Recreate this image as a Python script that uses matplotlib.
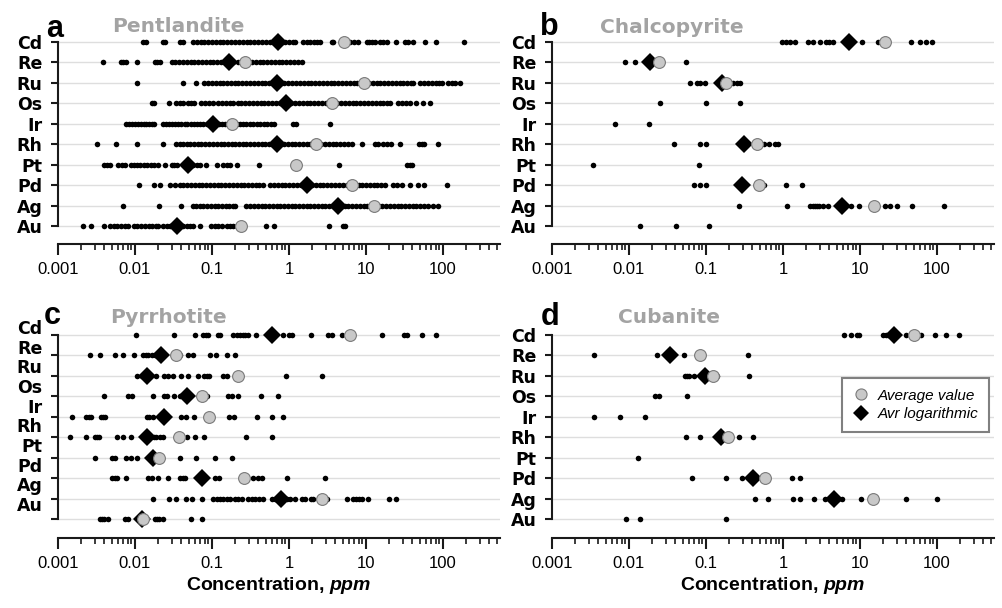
import numpy as np
import matplotlib
matplotlib.use("Agg")
import matplotlib.pyplot as plt
from matplotlib.lines import Line2D
from matplotlib.ticker import FixedLocator, LogLocator, NullFormatter, FuncFormatter

# element order (top to bottom)
elements = ["Cd", "Re", "Ru", "Os", "Ir", "Rh", "Pt", "Pd", "Ag", "Au"]

# ---- a: Pentlandite (ppm), one list per element ----
pentlandite_dots = [
    [0.0126, 0.0138, 0.0233, 0.0245, 0.0384, 0.0416, 0.057, 0.063, 0.071, 0.079, 0.089, 0.10, 0.112,
     0.126, 0.141, 0.158, 0.178, 0.20, 0.224, 0.251, 0.282, 0.316, 0.355, 0.398, 0.447, 0.51, 0.56,
     0.62, 0.69, 0.80, 0.89, 1.0, 1.12, 1.2, 1.53, 1.7, 1.9, 2.1, 2.3, 2.53, 3.58, 3.77, 5.6, 6.2,
     6.9, 7.95, 10.2, 11.0, 11.9, 13.1, 15.2, 16.5, 18.6, 24.6, 32, 35, 41, 59, 81, 187],
    [0.0038, 0.0065, 0.0070, 0.0076, 0.0107, 0.018, 0.0195, 0.021, 0.030, 0.0335, 0.0376, 0.042,
     0.047, 0.053, 0.059, 0.066, 0.074, 0.083, 0.093, 0.104, 0.117, 0.131, 0.147, 0.155, 0.19, 0.215,
     0.24, 0.296, 0.33, 0.37, 0.415, 0.465, 0.52, 0.585, 0.655, 0.735, 0.82, 0.92, 1.03, 1.16, 1.3,
     1.46],
    [0.0105, 0.0416, 0.062, 0.079, 0.088, 0.10, 0.113, 0.127, 0.14, 0.157, 0.176, 0.197, 0.22,
     0.247, 0.277, 0.31, 0.35, 0.39, 0.44, 0.49, 0.55, 0.62, 0.69, 0.78, 0.87, 0.98, 1.1, 1.23, 1.38,
     1.55, 1.74, 1.95, 2.19, 2.45, 2.75, 3.09, 3.46, 3.88, 4.35, 4.88, 5.5, 6.15, 6.9, 7.7, 8.7, 9.7,
     10.9, 12.2, 13.7, 15.4, 17.3, 19.4, 21.7, 24.4, 27.3, 30.6, 34.4, 38.5, 41, 51, 57, 64, 72, 80,
     88, 96, 117, 130, 145, 166],
    [0.0165, 0.0178, 0.028, 0.034, 0.038, 0.042, 0.049, 0.054, 0.058, 0.073, 0.082, 0.092, 0.104,
     0.121, 0.136, 0.152, 0.171, 0.19, 0.215, 0.24, 0.27, 0.30, 0.34, 0.38, 0.43, 0.48, 0.54, 0.60,
     0.67, 0.76, 0.85, 0.95, 1.07, 1.2, 1.34, 1.5, 1.69, 1.9, 2.12, 2.38, 2.67, 3.0, 3.36, 3.77, 4.2,
     4.7, 5.3, 5.95, 6.7, 7.5, 8.4, 9.4, 10.6, 11.9, 13.3, 15, 16.8, 18.5, 20.4, 26, 29, 33, 37, 45,
     55, 68],
    [0.0076, 0.0083, 0.0091, 0.0099, 0.0108, 0.0118, 0.0129, 0.0141, 0.0154, 0.0168, 0.0177, 0.023,
     0.025, 0.0275, 0.030, 0.033, 0.036, 0.040, 0.044, 0.048, 0.053, 0.058, 0.064, 0.070, 0.077,
     0.085, 0.093, 0.112, 0.123, 0.135, 0.148, 0.163, 0.19, 0.21, 0.23, 0.255, 0.28, 0.31, 0.345,
     0.38, 0.42, 0.47, 0.52, 0.58, 0.64, 1.12, 1.23, 3.4],
    [0.0032, 0.0056, 0.0105, 0.0233, 0.034, 0.038, 0.042, 0.047, 0.052, 0.058, 0.065, 0.072, 0.081,
     0.092, 0.103, 0.115, 0.129, 0.144, 0.161, 0.18, 0.2, 0.225, 0.25, 0.28, 0.315, 0.35, 0.39, 0.44,
     0.49, 0.55, 0.61, 0.69, 0.77, 0.86, 0.96, 1.08, 1.2, 1.35, 1.51, 1.69, 1.88, 2.1, 2.35, 2.63,
     2.95, 3.3, 3.7, 4.1, 4.6, 5.2, 5.8, 6.5, 8.8, 13, 14.5, 16.5, 18.6, 21, 27.6, 49, 53, 56, 85],
    [0.0039, 0.0043, 0.0047, 0.0061, 0.0067, 0.0074, 0.009, 0.0097, 0.0105, 0.0116, 0.0129, 0.0142,
     0.016, 0.0178, 0.020, 0.0245, 0.030, 0.0325, 0.035, 0.057, 0.063, 0.070, 0.0836, 0.115, 0.14,
     0.155, 0.171, 0.209, 0.41, 4.5, 34, 37, 40],
    [0.0112, 0.0177, 0.021, 0.0285, 0.033, 0.038, 0.042, 0.047, 0.054, 0.06, 0.067, 0.075, 0.084,
     0.094, 0.105, 0.118, 0.132, 0.148, 0.166, 0.186, 0.21, 0.235, 0.26, 0.29, 0.33, 0.37, 0.41,
     0.46, 0.57, 0.64, 0.72, 0.8, 0.9, 1.0, 1.13, 1.27, 1.42, 1.6, 1.8, 2.0, 2.25, 2.5, 2.8, 3.15,
     3.55, 4.0, 4.5, 5.0, 5.6, 6.3, 7.1, 8.0, 8.9, 10, 11.2, 12.6, 14.1, 15.8, 17.7, 22.6, 25, 29, 37,
     48, 56, 114],
    [0.0070, 0.0207, 0.040, 0.056, 0.062, 0.070, 0.077, 0.086, 0.096, 0.108, 0.12, 0.135, 0.15,
     0.168, 0.185, 0.20, 0.28, 0.315, 0.35, 0.39, 0.44, 0.49, 0.55, 0.62, 0.69, 0.77, 0.86, 0.97,
     1.08, 1.21, 1.35, 1.51, 1.69, 1.89, 2.12, 2.37, 2.65, 2.97, 3.32, 3.77, 4.2, 4.7, 5.3, 5.9, 6.6,
     7.4, 8.3, 9.3, 10.4, 11.6, 13, 14.6, 16.3, 18.3, 20.5, 23, 25.7, 28.8, 32, 36, 40.5, 45, 51, 57,
     64, 74, 85],
    [0.0021, 0.0027, 0.0039, 0.0047, 0.0053, 0.0059, 0.0066, 0.0074, 0.0082, 0.0096, 0.0107, 0.012,
     0.0134, 0.015, 0.0168, 0.0188, 0.020, 0.023, 0.0257, 0.0288, 0.033, 0.038, 0.042, 0.047, 0.052,
     0.057, 0.070, 0.096, 0.108, 0.121, 0.136, 0.155, 0.171, 0.19, 0.209, 0.51, 0.64, 3.34, 4.98,
     5.33],
]
pentlandite_mean = [5.18, 0.268, 9.4, 3.66, 0.18, 2.22, 1.22, 6.5, 12.7, 0.235]
pentlandite_logmean = [0.73, 0.164, 0.69, 0.91, 0.102, 0.69, 0.049, 1.7, 4.37, 0.0355]

# ---- b: Chalcopyrite ----
chalcopyrite_dots = [
    [0.98, 1.1, 1.22, 1.42, 2.11, 2.45, 3.05, 3.66, 4.0, 4.47, 10.6, 17.1, 45.5, 61, 73, 86],
    [0.0088, 0.012, 0.0545],
    [0.0614, 0.0764, 0.083, 0.098, 0.203, 0.225, 0.25, 0.279],
    [0.025, 0.101, 0.279],
    [0.0065, 0.018],
    [0.038, 0.0844, 0.099, 0.56, 0.66, 0.78, 0.86],
    [0.0034, 0.081],
    [0.069, 0.083, 0.101, 0.57, 1.08, 1.78],
    [0.265, 1.13, 2.26, 2.45, 2.6, 2.75, 2.9, 3.3, 3.84, 7.7, 9.6, 21.3, 24.3, 30.5, 47, 123],
    [0.0138, 0.041, 0.109],
]
chalcopyrite_mean = [20.9, 0.0243, 0.184, None, None, 0.455, None, 0.49, 15, None]
chalcopyrite_logmean = [7.1, 0.0185, 0.161, None, None, 0.308, None, 0.294, 5.83, None]

# ---- c: Pyrrhotite ----
pyrrhotite_dots = [
    [0.0103, 0.032, 0.060, 0.077, 0.083, 0.0895, 0.121, 0.127, 0.189, 0.21, 0.23, 0.25, 0.27, 0.296,
     0.372, 0.84, 1.0, 1.08, 1.91, 3.18, 3.66, 4.83, 16, 31.5, 34.4, 53, 81],
    [0.0026, 0.0035, 0.0055, 0.0070, 0.0097, 0.0126, 0.0138, 0.0149, 0.0164, 0.018, 0.0384, 0.049,
     0.057, 0.094, 0.113, 0.155, 0.199],
    [0.0105, 0.0122, 0.0131, 0.0188, 0.024, 0.027, 0.031, 0.040, 0.049, 0.065, 0.079, 0.085, 0.092,
     0.138, 0.155, 0.905, 2.65],
    [0.0039, 0.0080, 0.0091, 0.0169, 0.0238, 0.026, 0.0324, 0.038, 0.085, 0.16, 0.18, 0.215, 0.432,
     0.71],
    [0.0015, 0.0023, 0.0025, 0.00265, 0.0036, 0.0038, 0.0041, 0.0142, 0.0153, 0.017, 0.039, 0.046,
     0.058, 0.168, 0.193, 0.388, 0.596, 0.83],
    [0.00143, 0.0023, 0.003, 0.0032, 0.0034, 0.0059, 0.0070, 0.0088, 0.0177, 0.019, 0.021, 0.0233,
     0.048, 0.060, 0.0787, 0.277, 0.596],
    [0.003, 0.0051, 0.0055, 0.0076, 0.0089, 0.0105, 0.038, 0.062, 0.109, 0.184],
    [0.0051, 0.0055, 0.0059, 0.0076, 0.0149, 0.0164, 0.020, 0.027, 0.038, 0.0416, 0.0445, 0.109,
     0.124, 0.344, 0.39, 0.44, 0.93, 2.94],
    [0.0173, 0.028, 0.034, 0.046, 0.0545, 0.0735, 0.104, 0.115, 0.127, 0.14, 0.155, 0.171, 0.2, 0.22,
     0.243, 0.296, 0.33, 0.36, 0.41, 0.465, 0.596, 0.66, 0.727, 0.84, 0.93, 1.03, 1.2, 1.46, 1.6,
     1.91, 2.07, 3.08, 5.6, 6.7, 7.4, 8.2, 8.8, 10.7, 20, 24.5],
    [0.0035, 0.0037, 0.0040, 0.0044, 0.0074, 0.0082, 0.018, 0.0195, 0.0207, 0.0233, 0.053, 0.075],
]
pyrrhotite_mean = [6.2, 0.034, 0.22, 0.0735, 0.091, 0.0377, 0.0205, 0.26, 2.65, 0.0128]
pyrrhotite_logmean = [0.596, 0.0218, 0.0142, 0.048, 0.024, 0.0142, 0.0173, 0.0735, 0.78, 0.0122]

# ---- d: Cubanite ----
cubanite_dots = [
    [6.2, 7.6, 9.05, 9.8, 20, 21.5, 22.8, 40, 62.7, 95, 132, 192],
    [0.00346, 0.0228, 0.052, 0.349],
    [0.0535, 0.057, 0.061, 0.070, 0.139, 0.36],
    [0.0217, 0.0247, 0.057],
    [0.00346, 0.0077, 0.0161],
    [0.0546, 0.0836, 0.267, 0.405],
    [0.0131],
    [0.0666, 0.183, 0.295, 0.36, 1.31, 1.67],
    [0.43, 0.634, 1.35, 1.67, 2.54, 3.46, 5.2, 5.9, 10.2, 40, 101],
    [0.0091, 0.0139, 0.183],
]
cubanite_mean = [50.4, 0.0836, 0.124, None, None, 0.195, None, 0.59, 14.9, None]
cubanite_logmean = [27.8, 0.0342, 0.096, None, None, 0.155, None, 0.41, 4.66, None]

W, H = 1002, 608
SPINE = "#1a1a1a"
CIRCLE_FC = "#c8c8c8"
CIRCLE_EC = "#7a7a7a"
TITLE_GREY = "#a3a3a3"

plt.rcParams["font.family"] = ["Liberation Sans", "DejaVu Sans"]
plt.rcParams["mathtext.fontset"] = "custom"
plt.rcParams["mathtext.it"] = "Liberation Sans:italic:bold"
plt.rcParams["mathtext.rm"] = "Liberation Sans:bold"


def rect(left, top, right, bottom):
    return [left / W, 1 - bottom / H, (right - left) / W, (bottom - top) / H]


def draw(ax, dots, mean, logmean, ylim, xlabel=False, label_pos=None):
    rows = np.arange(len(elements))
    for i, vals in enumerate(dots):
        ax.plot(vals, [i] * len(vals), "o", ms=4.0, mew=0, color="black", zorder=3)
    for i in rows:
        if logmean[i] is not None:
            ax.plot(logmean[i], i, "D", ms=8.8, color="black", mew=0, zorder=4)
        if mean[i] is not None:
            ax.plot(mean[i], i, "o", ms=8.5, mfc=CIRCLE_FC, mec=CIRCLE_EC, mew=0.8, zorder=5)

    ax.set_xscale("log")
    ax.set_xlim(1e-3, 550)
    ax.set_ylim(*ylim)
    ax.xaxis.set_major_locator(FixedLocator([1e-3, 1e-2, 1e-1, 1, 10, 100]))
    ax.xaxis.set_major_formatter(FuncFormatter(lambda v, p: "{:g}".format(v)))
    ax.xaxis.set_minor_locator(LogLocator(base=10, subs=np.arange(2, 10), numticks=20))
    ax.xaxis.set_minor_formatter(NullFormatter())

    if label_pos is None:
        ax.set_yticks(rows, elements)
    else:
        ax.set_yticks(rows, [""] * len(rows))
        ax.set_yticks(label_pos, elements, minor=True)
        ax.tick_params(axis="y", which="minor", length=0, pad=11)
    for t in ax.get_yticklabels(which="both"):
        t.set_fontfamily("DejaVu Sans")
        t.set_fontweight("bold")
        t.set_fontsize(12.5)

    ax.grid(axis="y", which="major", color="#dedede", lw=1)
    ax.set_axisbelow(True)
    for s in ["top", "right"]:
        ax.spines[s].set_visible(False)
    for s in ["left", "bottom"]:
        ax.spines[s].set_linewidth(1.5)
        ax.spines[s].set_color(SPINE)
    ax.spines["left"].set_bounds(0, 9)

    ax.tick_params(axis="x", which="major", length=8, width=1.5, pad=5,
                   labelsize=12, color=SPINE)
    ax.tick_params(axis="x", which="minor", length=4.5, width=1.2, color=SPINE)
    ax.tick_params(axis="y", which="major", length=5, width=1.5, pad=6, color=SPINE)

    if xlabel:
        ax.set_xlabel(r"Concentration, $\mathit{ppm}$", fontsize=14, fontweight="bold", labelpad=3)


fig = plt.figure(figsize=(W / 100, H / 100), dpi=100)

ax_a = fig.add_axes(rect(58, 32, 500, 244))
ax_b = fig.add_axes(rect(552, 32, 994, 244))
ax_c = fig.add_axes(rect(58, 325, 500, 538))
ax_d = fig.add_axes(rect(552, 325, 994, 538))

top_lim = (9.88, -0.49)
bot_lim = (9.93, -0.49)
draw(ax_a, pentlandite_dots, pentlandite_mean, pentlandite_logmean, top_lim)
draw(ax_b, chalcopyrite_dots, chalcopyrite_mean, chalcopyrite_logmean, top_lim)
# pyrrhotite labels sit between the data rows in the original
c_labels = [-0.39 + 0.962 * i for i in range(len(elements))]
draw(ax_c, pyrrhotite_dots, pyrrhotite_mean, pyrrhotite_logmean, bot_lim, xlabel=True,
     label_pos=c_labels)
draw(ax_d, cubanite_dots, cubanite_mean, cubanite_logmean, bot_lim, xlabel=True)

# panel letters and mineral names
panels = [("a", "Pentlandite", 63, 37, 112, 32),
          ("b", "Chalcopyrite", 559, 35, 600, 33),
          ("c", "Pyrrhotite", 61, 324, 110, 323),
          ("d", "Cubanite", 559, 325, 618, 323)]
for letter, name, lx, ly, nx, ny in panels:
    fig.text(lx / W, 1 - ly / H, letter, ha="right", va="baseline",
             fontsize=22, fontweight="bold", color="black")
    fig.text(nx / W, 1 - ny / H, name, ha="left", va="baseline", family="DejaVu Sans",
             fontsize=14.5, fontweight="bold", color=TITLE_GREY)

handles = [Line2D([], [], ls="none", marker="o", ms=8, mfc=CIRCLE_FC, mec=CIRCLE_EC, mew=0.8),
           Line2D([], [], ls="none", marker="D", ms=8.4, color="black", mew=0)]
leg = ax_d.legend(handles, ["Average value", "Avr logarithmic"], loc="upper right",
                  bbox_to_anchor=(989 / W, 1 - 378 / H), bbox_transform=fig.transFigure,
                  prop={"style": "italic", "size": 11}, frameon=True, fancybox=False,
                  framealpha=1, edgecolor="#808080", handlelength=1.0, handletextpad=0.6,
                  borderpad=0.7, labelspacing=0.3, borderaxespad=0)
leg.get_frame().set_linewidth(1.5)

fig.savefig("out.png", dpi=100)
